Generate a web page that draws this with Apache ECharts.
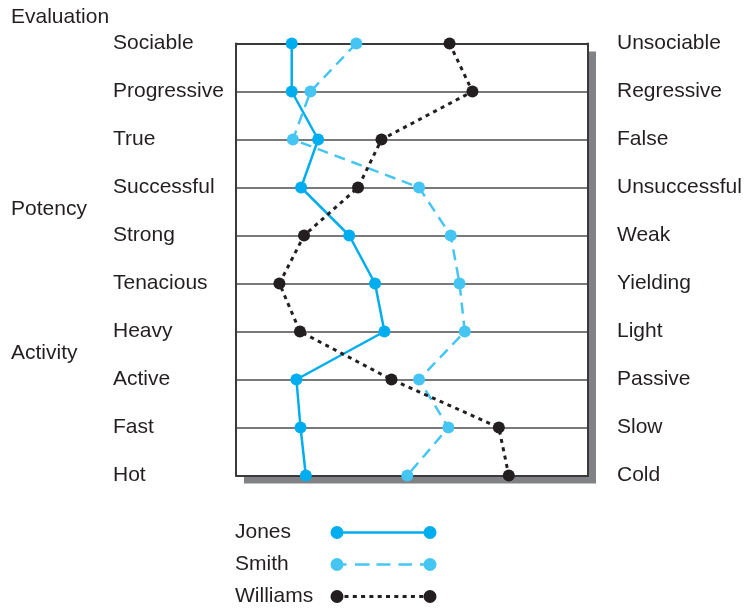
<!DOCTYPE html>
<html>
<head>
<meta charset="utf-8">
<script src="https://cdn.jsdelivr.net/npm/echarts@6/dist/echarts.min.js"></script>
<style>
html,body{margin:0;padding:0;background:#fff;}
#chart{width:746px;height:608px;}
</style>
</head>
<body>
<div id="chart"></div>
<script>
// ---- data ----
const leftTerms = ['Sociable','Progressive','True','Successful','Strong','Tenacious','Heavy','Active','Fast','Hot'];
const rightTerms = ['Unsociable','Regressive','False','Unsuccessful','Weak','Yielding','Light','Passive','Slow','Cold'];
const groupNames = ['Evaluation','Potency','Activity'];
const seriesNames = ['Jones','Smith','Williams'];
// ratings on a 1 (left adjective) .. 7 (right adjective) scale
const jones    = [1.95, 1.95, 2.40, 2.11, 2.93, 3.37, 3.53, 2.03, 2.10, 2.19];
const smith    = [3.05, 2.27, 1.97, 4.12, 4.66, 4.81, 4.90, 4.12, 4.62, 3.92];
const williams = [4.64, 5.03, 3.48, 3.08, 2.16, 1.74, 2.09, 3.65, 5.48, 5.65];

// ---- styling ----
const FONT = 'Liberation Sans, Arial, Helvetica, sans-serif';
const TXT = '#231f20';
const C_JONES = '#00aeef';
const C_SMITH = '#45c6f2';
const C_WILL = '#231f20';
const BOX = '#3a3a3a';
const FS = 21;

const circ = (cx) => `M${cx-6.5} 6.5a6.5 6.5 0 1 1 13 0a6.5 6.5 0 1 1 -13 0Z`;
const rect = (x0, x1, y0, y1) => `M${x0} ${y0}L${x1} ${y0}L${x1} ${y1}L${x0} ${y1}Z`;
const iconJones = 'path://' + circ(6.5) + rect(12, 94, 5.25, 7.75) + circ(99.5);
const iconSmith = 'path://' + circ(6.5) + [[12,16],[24.5,39],[46,60],[68,81.5],[89.5,94]].map(d => rect(d[0], d[1], 5.25, 7.75)).join('') + circ(99.5);
let dots = '';
for (let i = 0; i < 10; i++) { const x = 14 + i * 8.3; dots += rect(x, x + 4, 5, 8); }
const iconWill = 'path://' + circ(6.5) + dots + circ(99.5);

const chart = echarts.init(document.getElementById('chart'), null, {renderer: 'canvas'});

function mk(name, vals, color, lineType, width) {
  return {
    name: name,
    type: 'line',
    data: vals.map((v, i) => [v, leftTerms[i]]),
    symbol: 'circle',
    symbolSize: 12,
    itemStyle: {color: color, borderWidth: 0},
    lineStyle: {color: color, width: width, type: lineType},
    emphasis: {disabled: true},
    animation: false,
    z: 3
  };
}

const boxLine = {show: true, lineStyle: {color: BOX, width: 2}};

const option = {
  backgroundColor: '#fff',
  animation: false,
  grid: {
    left: 236, right: 158, top: 43.5, bottom: 132.5,
    show: true,
    backgroundColor: '#fff',
    borderWidth: 0,
    shadowColor: '#808285',
    shadowBlur: 0,
    shadowOffsetX: 8,
    shadowOffsetY: 8
  },
  xAxis: [
    {
      type: 'value', min: 1, max: 7, position: 'bottom',
      axisLine: boxLine, axisTick: {show: false}, axisLabel: {show: false},
      splitLine: {show: false}
    },
    {
      type: 'value', min: 1, max: 7, position: 'top',
      axisLine: boxLine, axisTick: {show: false}, axisLabel: {show: false},
      splitLine: {show: false}
    }
  ],
  yAxis: [
    {
      type: 'category', data: leftTerms, inverse: true, boundaryGap: false,
      position: 'left',
      axisLine: boxLine, axisTick: {show: false},
      splitLine: {show: true, lineStyle: {color: '#4d4d4d', width: 1.5}},
      axisLabel: {
        align: 'left', margin: 123, fontSize: FS, color: TXT, fontFamily: FONT,
        padding: [0, 0, 6, 0]
      }
    },
    {
      type: 'category', data: rightTerms, inverse: true, boundaryGap: false,
      position: 'right',
      axisLine: boxLine, axisTick: {show: false},
      splitLine: {show: false},
      axisLabel: {
        align: 'left', margin: 29, fontSize: FS, color: TXT, fontFamily: FONT,
        padding: [0, 0, 6, 0]
      }
    }
  ],
  legend: {
    orient: 'vertical',
    left: 235, top: 522, height: 90,
    padding: 0,
    align: 'right',
    itemWidth: 106, itemHeight: 13, itemGap: 11,
    selectedMode: false,
    itemStyle: {borderWidth: 0},
    data: [
      {name: seriesNames[0], icon: iconJones},
      {name: seriesNames[1], icon: iconSmith},
      {name: seriesNames[2], icon: iconWill}
    ],
    formatter: name => `{a|${name}}`,
    textStyle: {
      fontSize: FS, color: TXT, fontFamily: FONT,
      rich: {a: {width: 90.5, align: 'left', fontSize: FS, color: TXT, fontFamily: FONT}}
    }
  },
  graphic: [
    {type: 'text', left: 11, top: 7, style: {text: groupNames[0], fontSize: FS, fill: TXT, fontFamily: FONT}},
    {type: 'text', left: 11, top: 199, style: {text: groupNames[1], fontSize: FS, fill: TXT, fontFamily: FONT}},
    {type: 'text', left: 11, top: 343, style: {text: groupNames[2], fontSize: FS, fill: TXT, fontFamily: FONT}}
  ],
  series: [
    mk(seriesNames[0], jones, C_JONES, 'solid', 2.5),
    mk(seriesNames[1], smith, C_SMITH, [11, 7], 2.5),
    mk(seriesNames[2], williams, C_WILL, [4, 4.5], 3)
  ]
};
chart.setOption(option);
</script>
</body>
</html>
